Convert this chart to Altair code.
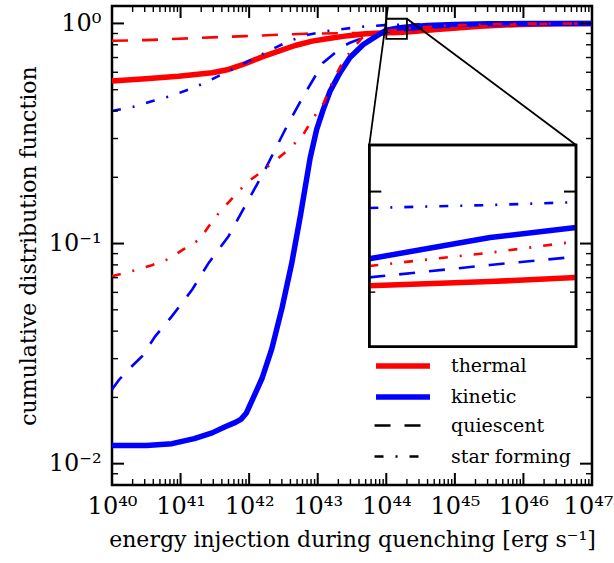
import math
import altair as alt
import pandas as pd

# ---------------- data (log10 of energy injection, CDF value) ----------------
THERMAL_ALL_X = [40.0, 40.49, 40.97, 41.46, 41.70, 41.94, 42.19, 42.43, 42.67, 42.92, 43.18, 43.45,
                 43.7, 44.0, 44.176, 44.301, 44.78, 45.37, 45.95, 46.5, 47.0]
THERMAL_ALL_Y = [0.547, 0.561, 0.576, 0.597, 0.618, 0.656, 0.705, 0.748, 0.794, 0.831, 0.856, 0.880,
                 0.897, 0.906, 0.910, 0.914, 0.940, 0.972, 0.990, 0.997, 1.0]

KINETIC_ALL_X = [40.0, 40.5, 40.875, 41.2, 41.46, 41.65, 41.80, 41.88, 41.96, 42.04, 42.19, 42.33,
                 42.48, 42.62, 42.75, 42.89, 42.985, 43.08, 43.18, 43.325, 43.47, 43.665, 43.86,
                 44.0, 44.176, 44.301, 44.6, 45.0, 45.5, 46.0, 47.0]
KINETIC_ALL_Y = [0.0121, 0.0121, 0.01233, 0.0130, 0.0138, 0.0147, 0.0154, 0.0159, 0.0170, 0.0193,
                 0.0245, 0.0332, 0.0510, 0.081, 0.135, 0.245, 0.330, 0.406, 0.492, 0.597, 0.700,
                 0.802, 0.878, 0.932, 0.953, 0.963, 0.978, 0.990, 0.996, 0.999, 1.0]

KINETIC_Q_X = [40.0, 40.1, 40.29, 40.44, 40.63, 40.875, 41.17, 41.41, 41.70, 41.95, 42.21, 42.55,
               42.79, 43.08, 43.37, 43.47, 43.7, 44.0, 44.176, 44.301, 44.8, 45.5, 46.0, 47.0]
KINETIC_Q_Y = [0.0217, 0.0240, 0.0277, 0.0308, 0.0379, 0.0468, 0.0618, 0.0817, 0.108, 0.150, 0.21,
               0.341, 0.467, 0.663, 0.788, 0.817, 0.870, 0.914, 0.926, 0.934, 0.965, 0.988, 0.996, 1.0]

THERMAL_SF_X = [40.0, 40.29, 40.58, 40.825, 41.04, 41.27, 41.43, 41.575, 41.70, 41.965, 42.19, 42.40,
                42.58, 42.79, 42.92, 43.09, 43.21, 43.36, 43.50, 43.65, 43.8, 44.0, 44.176, 44.301,
                44.8, 45.5, 46.0, 47.0]
THERMAL_SF_Y = [0.071, 0.0749, 0.0797, 0.0851, 0.094, 0.104, 0.122, 0.140, 0.154, 0.189, 0.213, 0.241,
                0.268, 0.313, 0.366, 0.436, 0.538, 0.663, 0.762, 0.861, 0.900, 0.925, 0.938, 0.949,
                0.975, 0.990, 0.998, 1.0]

KINETIC_SF_X = [40.0, 40.31, 40.58, 40.85, 41.12, 41.36, 41.6, 41.85, 42.09, 42.33, 42.58, 42.84,
                43.1, 43.37, 43.65, 44.0, 44.176, 44.301, 45.0, 46.0, 47.0]
KINETIC_SF_Y = [0.400, 0.418, 0.443, 0.467, 0.501, 0.538, 0.587, 0.640, 0.698, 0.762, 0.831, 0.885,
                0.920, 0.944, 0.966, 0.983, 0.986, 0.989, 0.995, 0.999, 1.0]

THERMAL_Q_X = [40.0, 40.49, 40.97, 41.46, 41.94, 42.43, 42.82, 43.3, 43.7, 44.0, 44.176, 44.301,
               44.78, 45.37, 45.95, 46.5, 47.0]
THERMAL_Q_Y = [0.834, 0.840, 0.852, 0.864, 0.876, 0.888, 0.898, 0.903, 0.905, 0.907, 0.910, 0.914,
               0.940, 0.972, 0.990, 0.997, 1.0]

FEEDBACK = ["thermal", "kinetic"]
COLORS = ["#ff0000", "#0000ff"]
POPS = ["quiescent", "star forming"]

X_TICK_LABELS = ["10⁴⁰", "10⁴¹", "10⁴²", "10⁴³", "10⁴⁴", "10⁴⁵", "10⁴⁶", "10⁴⁷"]
Y_TICK_LABELS = ["10⁻²", "10⁻¹", "10⁰"]
X_MAJOR = [10.0 ** e for e in range(40, 48)]
Y_MAJOR = [0.01, 0.1, 1.0]
X_MINOR = [k * 10.0 ** e for e in range(40, 47) for k in range(2, 10)]
Y_MINOR = [0.008, 0.009] + [k * 10.0 ** e for e in (-2, -1) for k in range(2, 10)]

X_TITLE = "energy injection during quenching [erg s⁻¹]"
Y_TITLE = "cumulative distribution function"

XDOM = [1e40, 1e47]
YDOM = [0.008, 1.2]

# inset region (data) and its placement in the plot (layout)
INSET_XDOM = [1e44, 2e44]
INSET_YDOM = [0.85, 1.05]
INSET_Y_MAJOR = [1.0]
INSET_Y_MINOR = [0.9]

# ---------------- layout / style ----------------
W, H = 480, 479
PAD = {"left": 112, "top": 6, "right": 22, "bottom": 78}
IX0, IX1 = 257.3, 464.0
IY0, IY1 = 139.0, 340.7
FONT = "DejaVu Serif"
MAJ, MIN = 12, 6


def series(feedback, pop, xs, ys):
    return pd.DataFrame({"E": [10.0 ** x for x in xs], "cdf": ys,
                         "feedback": feedback, "pop": pop})


df = pd.concat([
    series("thermal", "all", THERMAL_ALL_X, THERMAL_ALL_Y),
    series("kinetic", "all", KINETIC_ALL_X, KINETIC_ALL_Y),
    series("thermal", "quiescent", THERMAL_Q_X, THERMAL_Q_Y),
    series("kinetic", "quiescent", KINETIC_Q_X, KINETIC_Q_Y),
    series("thermal", "star forming", THERMAL_SF_X, THERMAL_SF_Y),
    series("kinetic", "star forming", KINETIC_SF_X, KINETIC_SF_Y),
], ignore_index=True)

xs_main = alt.Scale(type="log", domain=XDOM, nice=False)
ys_main = alt.Scale(type="log", domain=YDOM, nice=False)
xs_in = alt.Scale(type="log", domain=INSET_XDOM, range=[IX0, IX1], nice=False)
ys_in = alt.Scale(type="log", domain=INSET_YDOM, range=[IY1, IY0], nice=False)

x_labels_js = "[" + ",".join("'%s'" % s for s in X_TICK_LABELS) + "]"
y_labels_js = "[" + ",".join("'%s'" % s for s in Y_TICK_LABELS) + "]"

x_axis = alt.Axis(values=X_MAJOR, labelExpr=x_labels_js + "[round(log(datum.value)/LN10) - 40]",
                  title=X_TITLE, ticks=False, domain=False, grid=False, labelFlush=False,
                  labelOverlap=False, labelPadding=9, titlePadding=11,
                  labelOffset={"condition": {"test": "datum.value > 5e46", "value": -4}, "value": 0})
y_axis = alt.Axis(values=Y_MAJOR, labelExpr=y_labels_js + "[round(log(datum.value)/LN10) + 2]",
                  title=Y_TITLE, ticks=False, domain=False, grid=False, labelFlush=False,
                  labelOverlap=False, labelPadding=11, titlePadding=8)

color_scale = alt.Scale(domain=FEEDBACK, range=COLORS)
dash_scale = alt.Scale(domain=POPS, range=[[16, 14], [9, 12, 2, 12]])

LINE_SYM = "M-2.5,0H2.5"
color_legend = alt.Legend(title=None, orient="none", legendX=277, legendY=346, padding=0,
                          symbolType=LINE_SYM, symbolSize=466, symbolStrokeWidth=5.5,
                          labelFont=FONT, labelFontSize=19, labelColor="black",
                          labelOffset=34, rowPadding=6)
dash_legend = alt.Legend(title=None, orient="none", legendX=277, legendY=407, padding=0,
                         symbolType=LINE_SYM, symbolSize=466, symbolStrokeWidth=2.6,
                         symbolStrokeColor="black", labelFont=FONT, labelFontSize=19,
                         labelColor="black", labelOffset=37, rowPadding=8)

base = alt.Chart(df)


def line_layers(xscale, yscale, xaxis, yaxis, inset=False):
    src = base
    if inset:
        src = base.transform_filter(
            (alt.datum.E >= INSET_XDOM[0] * 0.999) & (alt.datum.E <= INSET_XDOM[1] * 1.001))
    x = alt.X("E:Q", scale=xscale, axis=xaxis)
    y = alt.Y("cdf:Q", scale=yscale, axis=yaxis)
    col = alt.Color("feedback:N", scale=color_scale, legend=None if inset else color_legend)
    layers = []
    for fb in FEEDBACK:
        layers.append(src.transform_filter((alt.datum.pop == "all") & (alt.datum.feedback == fb))
                      .mark_line(strokeWidth=5.5, strokeJoin="round")
                      .encode(x=x, y=y, color=col))
    for pop in POPS:
        for fb in FEEDBACK:
            layers.append(src.transform_filter((alt.datum.pop == pop) & (alt.datum.feedback == fb))
                          .mark_line(strokeWidth=2.6)
                          .encode(x=x, y=y, color=col,
                                  strokeDash=alt.StrokeDash(
                                      "pop:N", scale=dash_scale,
                                      legend=None if inset else dash_legend)))
    return layers


# tick rules (inward, on all four sides)
def ticks(values, length, width, side):
    d = alt.Chart(pd.DataFrame({"v": values}))
    m = d.mark_rule(color="black", strokeWidth=width)
    if side == "bottom":
        return m.encode(x=alt.X("v:Q", scale=xs_main, axis=x_axis), y=alt.value(H), y2=alt.value(H - length))
    if side == "top":
        return m.encode(x=alt.X("v:Q", scale=xs_main, axis=x_axis), y=alt.value(0), y2=alt.value(length))
    if side == "left":
        return m.encode(y=alt.Y("v:Q", scale=ys_main, axis=y_axis), x=alt.value(0), x2=alt.value(length))
    return m.encode(y=alt.Y("v:Q", scale=ys_main, axis=y_axis), x=alt.value(W), x2=alt.value(W - length))


tick_layers = []
for side in ("bottom", "top"):
    tick_layers.append(ticks(X_MAJOR, MAJ, 2, side))
    tick_layers.append(ticks(X_MINOR, MIN, 1.4, side))
for side in ("left", "right"):
    tick_layers.append(ticks(Y_MAJOR, MAJ, 2, side))
    tick_layers.append(ticks(Y_MINOR, MIN, 1.4, side))

box_df = pd.DataFrame({"x0": [INSET_XDOM[0]], "x1": [INSET_XDOM[1]],
                       "y0": [INSET_YDOM[0]], "y1": [INSET_YDOM[1]]})

# left connector: from the inset's upper-left corner through the zoom box corner
# up to the top of the axes (as in the reference)
def _px_x(v):
    return W * math.log10(v / XDOM[0]) / math.log10(XDOM[1] / XDOM[0])


def _px_y(v):
    return H * math.log10(YDOM[1] / v) / math.log10(YDOM[1] / YDOM[0])


bx, by = _px_x(INSET_XDOM[0]), _px_y(INSET_YDOM[1])
top_x = bx + (bx - IX0) * by / (IY0 - by)
top_E = XDOM[0] * 10 ** (top_x / W * math.log10(XDOM[1] / XDOM[0]))
conn_df = pd.DataFrame({"xa": [top_E], "ya": [YDOM[1]]})

zoom_box = alt.Chart(box_df).mark_rect(fill=None, stroke="black", strokeWidth=1.8).encode(
    x=alt.X("x0:Q", scale=xs_main, axis=x_axis), x2="x1:Q",
    y=alt.Y("y0:Q", scale=ys_main, axis=y_axis), y2="y1:Q")
conn_left = alt.Chart(conn_df).mark_rule(color="black", strokeWidth=1.8).encode(
    x=alt.X("xa:Q", scale=xs_main, axis=x_axis), y=alt.Y("ya:Q", scale=ys_main, axis=y_axis),
    x2=alt.value(IX0), y2=alt.value(IY0))
conn_right = alt.Chart(box_df).mark_rule(color="black", strokeWidth=1.8).encode(
    x=alt.X("x1:Q", scale=xs_main, axis=x_axis), y=alt.Y("y1:Q", scale=ys_main, axis=y_axis),
    x2=alt.value(IX1), y2=alt.value(IY0))

main = alt.layer(*line_layers(xs_main, ys_main, x_axis, y_axis), *tick_layers,
                 zoom_box, conn_left, conn_right)

inset_bg = alt.Chart(box_df).mark_rect(fill="white", stroke="black", strokeWidth=2.5).encode(
    x=alt.X("x0:Q", scale=xs_in, axis=None), x2="x1:Q",
    y=alt.Y("y0:Q", scale=ys_in, axis=None), y2="y1:Q")
inset_frame = alt.Chart(box_df).mark_rect(fill=None, stroke="black", strokeWidth=2.5).encode(
    x=alt.X("x0:Q", scale=xs_in, axis=None), x2="x1:Q",
    y=alt.Y("y0:Q", scale=ys_in, axis=None), y2="y1:Q")


def inset_ticks(values, length, width, left):
    x0 = IX0 if left else IX1
    x1 = IX0 + length if left else IX1 - length
    return alt.Chart(pd.DataFrame({"v": values})).mark_rule(color="black", strokeWidth=width).encode(
        y=alt.Y("v:Q", scale=ys_in, axis=None), x=alt.value(x0), x2=alt.value(x1))


inset = alt.layer(inset_bg, *line_layers(xs_in, ys_in, None, None, inset=True),
                  inset_ticks(INSET_Y_MAJOR, MAJ, 2, True), inset_ticks(INSET_Y_MAJOR, MAJ, 2, False),
                  inset_ticks(INSET_Y_MINOR, MIN, 1.4, True), inset_ticks(INSET_Y_MINOR, MIN, 1.4, False),
                  inset_frame)

chart = alt.layer(main, inset).resolve_scale(x="independent", y="independent").properties(
    width=W, height=H, background="white",
    autosize=alt.AutoSizeParams(type="none"), padding=PAD,
).configure_view(stroke="black", strokeWidth=2.5).configure_axis(
    labelFont=FONT, labelFontSize=24, labelColor="black",
    titleFont=FONT, titleFontSize=22, titleColor="black", titleFontWeight="normal",
)

chart.save("out.html", embed_options={"renderer": "svg", "actions": False})
